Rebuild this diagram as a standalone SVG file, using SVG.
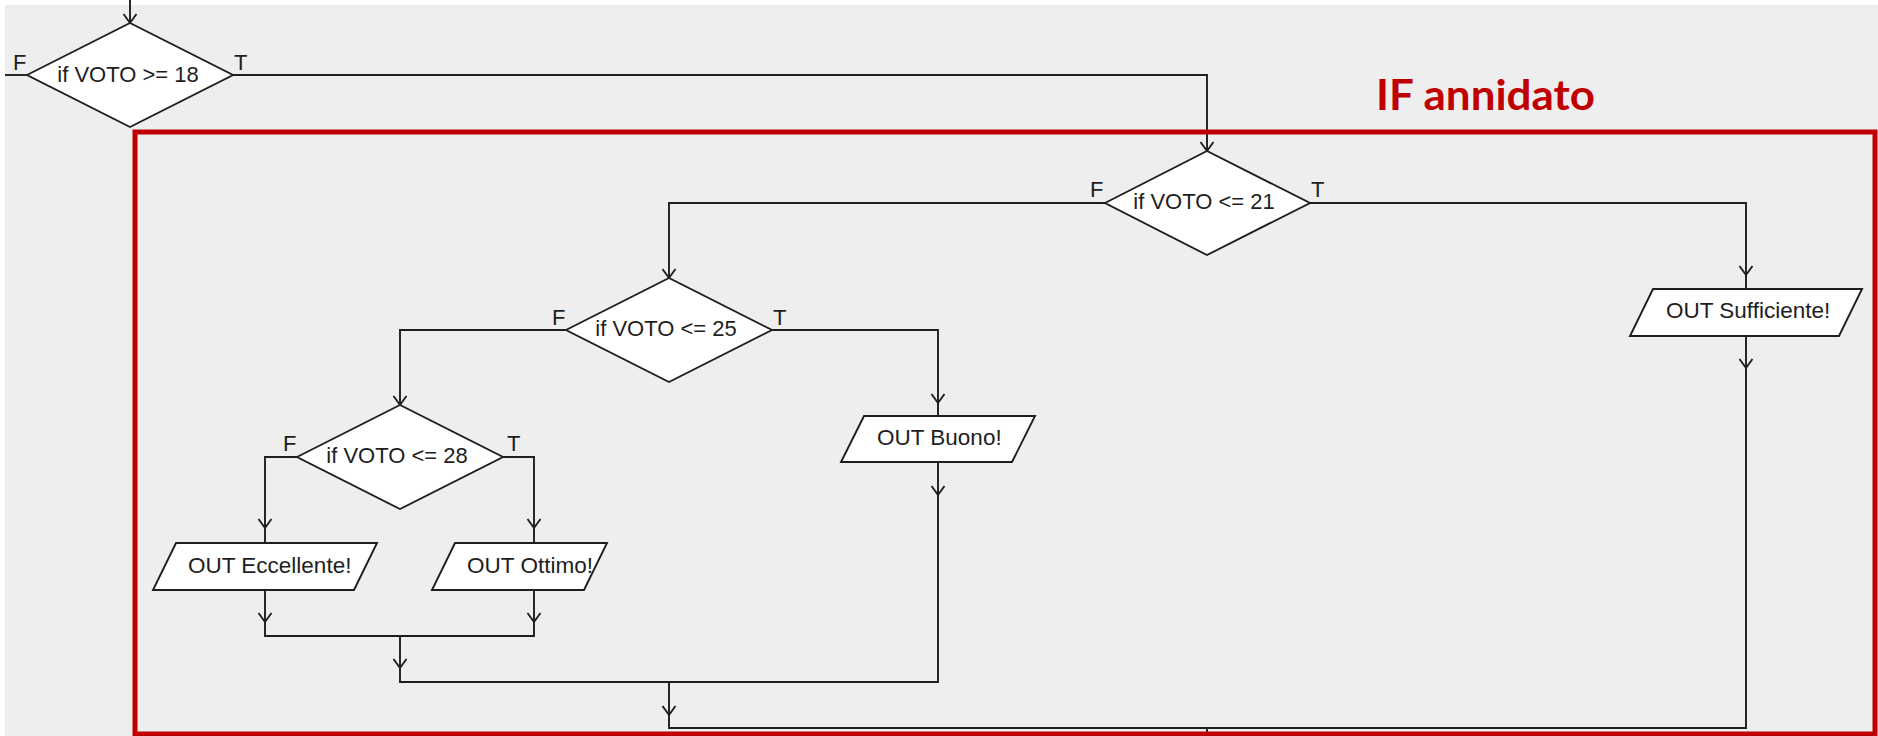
<svg xmlns="http://www.w3.org/2000/svg" xmlns:xlink="http://www.w3.org/1999/xlink" width="1878" height="736" viewBox="0 0 1878 736">
  <style>
    .shape { fill: #ffffff; stroke: #1e1e1e; stroke-width: 1.9; stroke-linejoin: miter; }
    .wire { fill: none; stroke: #1e1e1e; stroke-width: 1.9; }
    .txt { font-family: "Liberation Sans", Arial, sans-serif; font-size: 22px; fill: #1e1e1e; }
    .out { font-family: "Liberation Sans", Arial, sans-serif; font-size: 22.5px; fill: #1e1e1e; }
    .lbl { font-family: "Liberation Sans", Arial, sans-serif; font-size: 22px; fill: #1e1e1e; }
    .title { font-family: Lato, "Open Sans", sans-serif; font-weight: bold; font-size: 42px; fill: #c00000; }
  </style>
  <defs>
    <!-- open chevron arrowhead, tip at origin pointing down -->
    <path id="arr" d="M-6.5,-9 L0,0 L6.5,-9" fill="none" stroke="#1e1e1e" stroke-width="1.9"/>
  </defs>

  <!-- canvas -->
  <rect x="0" y="0" width="1878" height="736" fill="#ffffff"/>
  <rect x="5" y="5" width="1873" height="731" fill="#eeeeee"/>

  <!-- connectors -->
  <g id="connectors">
    <path class="wire" d="M130,0 V23"/>
    <path class="wire" d="M5,75 H27"/>
    <path class="wire" d="M233,75 H1207 V151"/>
    <path class="wire" d="M1105,203 H669 V278"/>
    <path class="wire" d="M1310,203 H1746 V289"/>
    <path class="wire" d="M566,330 H400 V405"/>
    <path class="wire" d="M772,330 H938 V416"/>
    <path class="wire" d="M297,457 H265 V543"/>
    <path class="wire" d="M503,457 H534 V543"/>
    <path class="wire" d="M265,590 V636 H534 V590"/>
    <path class="wire" d="M400,636 V682 H938 V462"/>
    <path class="wire" d="M669,682 V728 H1746 V336"/>
    <path class="wire" d="M1207,728 V736"/>
    <use xlink:href="#arr" x="130" y="23"/>
    <use xlink:href="#arr" x="1207" y="151"/>
    <use xlink:href="#arr" x="669" y="278"/>
    <use xlink:href="#arr" x="400" y="405"/>
    <use xlink:href="#arr" x="1746" y="275"/>
    <use xlink:href="#arr" x="938" y="403"/>
    <use xlink:href="#arr" x="265" y="528"/>
    <use xlink:href="#arr" x="534" y="528"/>
    <use xlink:href="#arr" x="265" y="622"/>
    <use xlink:href="#arr" x="534" y="622"/>
    <use xlink:href="#arr" x="938" y="495"/>
    <use xlink:href="#arr" x="400" y="668"/>
    <use xlink:href="#arr" x="1746" y="368"/>
    <use xlink:href="#arr" x="669" y="715"/>
  </g>

  <!-- decisions -->
  <g id="if-voto-ge-18">
    <polygon class="shape" points="27,75 130,23 233,75 130,127"/>
    <text class="txt" x="128" y="82" text-anchor="middle">if VOTO &gt;= 18</text>
    <text class="lbl" x="13" y="70">F</text>
    <text class="lbl" x="234" y="70">T</text>
  </g>
  <g id="if-voto-le-21">
    <polygon class="shape" points="1105,203 1207,151 1310,203 1207,255"/>
    <text class="txt" x="1204" y="209" text-anchor="middle">if VOTO &lt;= 21</text>
    <text class="lbl" x="1090" y="197">F</text>
    <text class="lbl" x="1311" y="197">T</text>
  </g>
  <g id="if-voto-le-25">
    <polygon class="shape" points="566,330 669,278 772,330 669,382"/>
    <text class="txt" x="666" y="336" text-anchor="middle">if VOTO &lt;= 25</text>
    <text class="lbl" x="552" y="325">F</text>
    <text class="lbl" x="773" y="325">T</text>
  </g>
  <g id="if-voto-le-28">
    <polygon class="shape" points="297,457 400,405 503,457 400,509"/>
    <text class="txt" x="397" y="463" text-anchor="middle">if VOTO &lt;= 28</text>
    <text class="lbl" x="283" y="451">F</text>
    <text class="lbl" x="507" y="451">T</text>
  </g>

  <!-- outputs -->
  <g id="out-sufficiente">
    <polygon class="shape" points="1653,289 1862,289 1839,336 1630,336"/>
    <text class="out" x="1666" y="318">OUT Sufficiente!</text>
  </g>
  <g id="out-buono">
    <polygon class="shape" points="864,416 1035,416 1012,462 841,462"/>
    <text class="out" x="877" y="445">OUT Buono!</text>
  </g>
  <g id="out-eccellente">
    <polygon class="shape" points="176,543 377,543 354,590 153,590"/>
    <text class="out" x="188" y="573">OUT Eccellente!</text>
  </g>
  <g id="out-ottimo">
    <polygon class="shape" points="455,543 607,543 584,590 432,590"/>
    <text class="out" x="467" y="573" textLength="126" lengthAdjust="spacingAndGlyphs">OUT Ottimo!</text>
  </g>

  <!-- nested-if frame -->
  <g id="nested-if-frame">
    <rect x="135" y="132" width="1740" height="602" fill="none" stroke="#c00000" stroke-width="5"/>
    <text class="title" x="1376" y="110" textLength="219" lengthAdjust="spacingAndGlyphs">IF annidato</text>
  </g>
</svg>
